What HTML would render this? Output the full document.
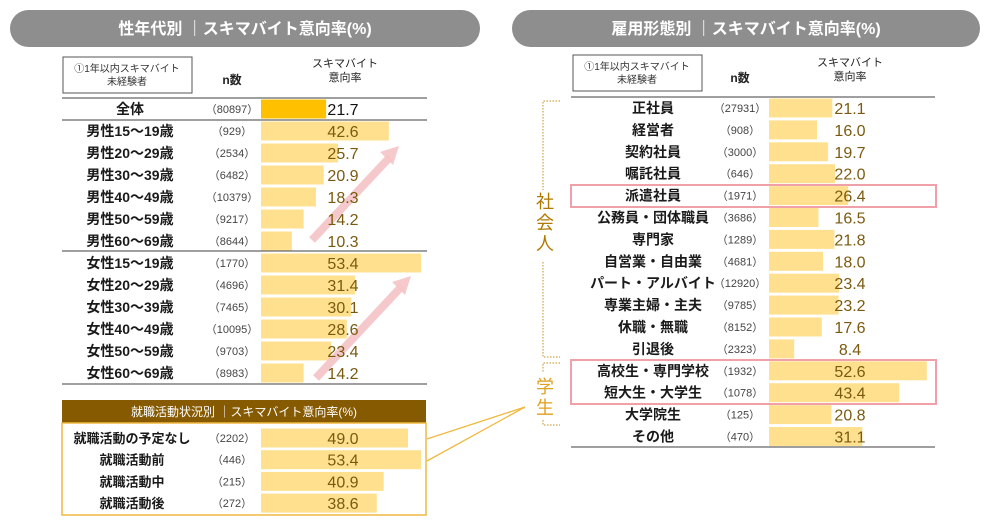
<!DOCTYPE html>
<html><head><meta charset="utf-8">
<style>
html,body{margin:0;padding:0;background:#fff;}
svg{display:block;font-family:"Liberation Sans","Noto Sans CJK JP",sans-serif;}
</style></head>
<body>
<svg id="c" width="1000" height="530" viewBox="0 0 1000 530" xmlns="http://www.w3.org/2000/svg">
  <rect x="10" y="10" width="470" height="37" rx="18.5" fill="#8e8e8e"/>
  <text x="245" y="34" text-anchor="middle" fill="#fff" font-size="16" font-weight="bold">性年代別 ｜スキマバイト意向率(%)</text>
  <rect x="512" y="10" width="468" height="37" rx="18.5" fill="#8e8e8e"/>
  <text x="746" y="34" text-anchor="middle" fill="#fff" font-size="16" font-weight="bold">雇用形態別 ｜スキマバイト意向率(%)</text>

  <g>
    <rect x="63" y="57" width="129" height="36" fill="#fff" stroke="#555" stroke-width="1"/>
    <text x="127" y="72" text-anchor="middle" font-size="10" fill="#333">①1年以内スキマバイト</text>
    <text x="127" y="85" text-anchor="middle" font-size="10" fill="#333">未経験者</text>
    <text x="232" y="84" text-anchor="middle" font-size="12" font-weight="bold" fill="#222">n数</text>
    <text x="345" y="67" text-anchor="middle" font-size="11" fill="#222">スキマバイト</text>
    <text x="345" y="81" text-anchor="middle" font-size="11" fill="#222">意向率</text>
  </g>
  <g>
    <rect x="573" y="55" width="129" height="36" fill="#fff" stroke="#555" stroke-width="1"/>
    <text x="637" y="70" text-anchor="middle" font-size="10" fill="#333">①1年以内スキマバイト</text>
    <text x="637" y="83" text-anchor="middle" font-size="10" fill="#333">未経験者</text>
    <text x="740" y="82" text-anchor="middle" font-size="12" font-weight="bold" fill="#222">n数</text>
    <text x="850" y="66" text-anchor="middle" font-size="11" fill="#222">スキマバイト</text>
    <text x="850" y="80" text-anchor="middle" font-size="11" fill="#222">意向率</text>
  </g>

  <rect x="62" y="400" width="364" height="23" fill="#855a00"/>
  <text x="244" y="416" text-anchor="middle" font-size="12" fill="#fff">就職活動状況別 ｜スキマバイト意向率(%)</text>
  <rect x="62" y="423" width="364" height="92" fill="none" stroke="#f0b840" stroke-width="1.5"/>
  <polyline points="427,439 525,407 427,461" fill="none" stroke="#f0b840" stroke-width="1.3"/>

  <g id="bars"></g>

  <g>
    <line x1="312" y1="240" x2="390" y2="157" stroke="#f5c4c6" stroke-width="8" opacity="0.9"/>
    <polygon points="399,146 380,152 393,165" fill="#f5c4c6" opacity="0.9"/>
  </g>
  <g>
    <line x1="316" y1="378" x2="402" y2="286" stroke="#f5c4c6" stroke-width="8" opacity="0.9"/>
    <polygon points="411,276 392,282 405,295" fill="#f5c4c6" opacity="0.9"/>
  </g>

  <g id="texts"></g>

  <rect x="571" y="185" width="365" height="22" fill="none" stroke="#f0a0a8" stroke-width="2"/>
  <rect x="571" y="360" width="365" height="44" fill="none" stroke="#f0a0a8" stroke-width="2"/>

  <g>
    <polyline points="560,101 543,101 543,190" fill="none" stroke="#c09020" stroke-width="1" stroke-dasharray="1.5,1.5"/>
    <polyline points="543,262 543,357 560,357" fill="none" stroke="#c09020" stroke-width="1" stroke-dasharray="1.5,1.5"/>
    <text x="545" y="208" text-anchor="middle" font-size="18" fill="#b07a00">社</text>
    <text x="545" y="229" text-anchor="middle" font-size="18" fill="#b07a00">会</text>
    <text x="545" y="250" text-anchor="middle" font-size="18" fill="#b07a00">人</text>
  </g>
  <g>
    <polyline points="560,363 543,363 543,372" fill="none" stroke="#c09020" stroke-width="1" stroke-dasharray="1.5,1.5"/>
    <polyline points="543,420 543,425 560,425" fill="none" stroke="#c09020" stroke-width="1" stroke-dasharray="1.5,1.5"/>
    <text x="545" y="393" text-anchor="middle" font-size="18" fill="#e0a020">学</text>
    <text x="545" y="414" text-anchor="middle" font-size="18" fill="#e0a020">生</text>
  </g>
</svg>
<script>
const totalLabels = ["全体"];
const totalN = ["80897"];
const totalValues = [21.7];
const ageLabels = ["男性15～19歳","男性20～29歳","男性30～39歳","男性40～49歳","男性50～59歳","男性60～69歳","女性15～19歳","女性20～29歳","女性30～39歳","女性40～49歳","女性50～59歳","女性60～69歳"];
const ageN = ["929","2534","6482","10379","9217","8644","1770","4696","7465","10095","9703","8983"];
const ageValues = [42.6,25.7,20.9,18.3,14.2,10.3,53.4,31.4,30.1,28.6,23.4,14.2];
const jobLabels = ["就職活動の予定なし","就職活動前","就職活動中","就職活動後"];
const jobN = ["2202","446","215","272"];
const jobValues = [49.0,53.4,40.9,38.6];
const empLabels = ["正社員","経営者","契約社員","嘱託社員","派遣社員","公務員・団体職員","専門家","自営業・自由業","パート・アルバイト","専業主婦・主夫","休職・無職","引退後","高校生・専門学校","短大生・大学生","大学院生","その他"];
const empN = ["27931","908","3000","646","1971","3686","1289","4681","12920","9785","8152","2323","1932","1078","125","470"];
const empValues = [21.1,16.0,19.7,22.0,26.4,16.5,21.8,18.0,23.4,23.2,17.6,8.4,52.6,43.4,20.8,31.1];

const NS = "http://www.w3.org/2000/svg";
const gb = document.getElementById("bars");
const gt = document.getElementById("texts");
const SCALE = 3.0;
function el(parent, tag, attrs, txt){
  const e = document.createElementNS(NS, tag);
  for (const k in attrs) e.setAttribute(k, attrs[k]);
  if (txt !== undefined) e.textContent = txt;
  parent.appendChild(e);
  return e;
}
function xs(x0, v){ return x0 + v * SCALE; }
function drawRows(labels, ns, vals, o){
  for (let i = 0; i < labels.length; i++){
    const cy = o.y0 + i * o.step;
    const b = el(gb, "rect", {x:o.barX, y:cy-9.5, width:xs(0, vals[i]), height:19, fill:o.barFill || "#ffe08f"});
    
    
    const lt = el(gt, "text", {x:o.labelX, y:cy+5, "text-anchor":"middle", "font-size":o.labelSize||14, "font-weight":"bold", fill:"#1a1a1a"}, labels[i]);
    
    
    const nt = el(gt, "text", {x:o.nX, y:cy+4, "text-anchor":"middle", "font-size":11, fill:"#444"}, "（" + ns[i] + "）");
    
    
    const vt = el(gt, "text", {x:o.valX, y:cy+6, "text-anchor":"middle", "font-size":16, fill:o.valFill || "#7a5a10"}, vals[i].toFixed(1));
    
    
  }
}
function hline(x1, x2, y){
  const l = el(gt, "line", {x1:x1, x2:x2, y1:y, y2:y, stroke:"#666", "stroke-width":1.2});
  
  
}
hline(62, 427, 98); hline(62, 427, 120); hline(62, 427, 251); hline(62, 427, 384);
drawRows(totalLabels, totalN, totalValues, {y0:109, step:22, barX:261, labelX:130, nX:232, valX:343, barFill:"#ffc000", valFill:"#111"});
drawRows(ageLabels.slice(0,6), ageN.slice(0,6), ageValues.slice(0,6), {y0:131, step:22, barX:261, labelX:130, nX:232, valX:343});
drawRows(ageLabels.slice(6), ageN.slice(6), ageValues.slice(6), {y0:263, step:22, barX:261, labelX:130, nX:232, valX:343});
drawRows(jobLabels, jobN, jobValues, {y0:438, step:21.7, barX:261, labelX:132, nX:232, valX:343, labelSize:13});
hline(571, 935, 97); hline(571, 935, 447);
drawRows(empLabels, empN, empValues, {y0:108, step:21.9, barX:769, labelX:653, nX:740, valX:850});
</script>
</body></html>
